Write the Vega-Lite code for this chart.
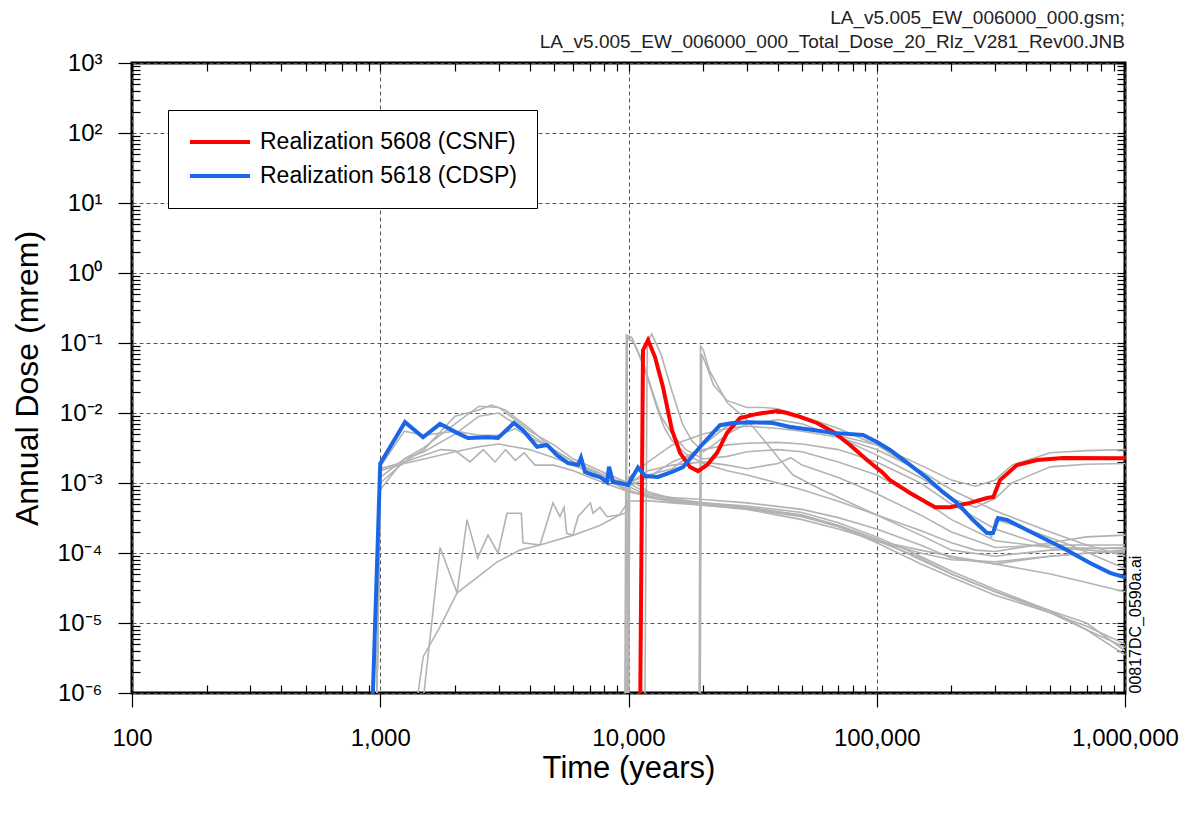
{
  "$schema": "https://vega.github.io/schema/vega-lite/v6.json",
  "width": 993,
  "height": 630,
  "autosize": {"type": "none"},
  "padding": {"left": 132, "top": 63, "right": 71, "bottom": 122},
  "background": "white",
  "title": {
    "text": ["LA_v5.005_EW_006000_000.gsm;", "LA_v5.005_EW_006000_000_Total_Dose_20_Rlz_V281_Rev00.JNB"],
    "anchor": "end",
    "frame": "group",
    "font": "Liberation Sans",
    "fontSize": 19,
    "fontWeight": "normal",
    "color": "#222222",
    "lineHeight": 24,
    "offset": -1
  },
  "config": {
    "font": "Liberation Sans",
    "view": {"stroke": "black", "strokeWidth": 3},
    "axis": {
      "labelFont": "Liberation Sans",
      "titleFont": "Liberation Sans",
      "labelColor": "black",
      "titleColor": "black",
      "tickColor": "black",
      "tickWidth": 1.2,
      "domain": false,
      "titleFontWeight": "normal",
      "labelFlush": false,
      "labelOverlap": false
    },
    "legend": {
      "orient": "none",
      "legendX": 36,
      "legendY": 47,
      "padding": 20,
      "strokeColor": "black",
      "fillColor": "white",
      "labelFont": "Liberation Sans",
      "labelFontSize": 23,
      "labelColor": "black",
      "labelLimit": 500,
      "symbolType": "M-1,0H5",
      "symbolSize": 400,
      "symbolStrokeWidth": 4,
      "labelOffset": 48,
      "rowPadding": 10,
      "title": null
    }
  },
  "datasets": {
    "gray": [
      {"s":"g1","t":960,"d":1e-7},{"s":"g1","t":1000,"d":1.2e-3},{"s":"g1","t":1250,"d":2.2e-3},{"s":"g1","t":1500,"d":3.2e-3},{"s":"g1","t":2000,"d":7e-3},{"s":"g1","t":2500,"d":1.25e-2},{"s":"g1","t":3000,"d":1.2e-2},{"s":"g1","t":3500,"d":8e-3},{"s":"g1","t":4000,"d":5.5e-3},{"s":"g1","t":5000,"d":3.5e-3},{"s":"g1","t":6000,"d":2.2e-3},{"s":"g1","t":8000,"d":1.4e-3},{"s":"g1","t":10000,"d":1.0e-3},{"s":"g1","t":12000,"d":7e-4},{"s":"g1","t":15000,"d":5.8e-4},{"s":"g1","t":20000,"d":5e-4},{"s":"g1","t":30000,"d":4.3e-4},{"s":"g1","t":50000,"d":3.3e-4},{"s":"g1","t":70000,"d":2.4e-4},{"s":"g1","t":100000,"d":1.5e-4},{"s":"g1","t":150000,"d":1.0e-4},{"s":"g1","t":200000,"d":8e-5},{"s":"g1","t":300000,"d":7.5e-5},{"s":"g1","t":500000,"d":9e-5},{"s":"g1","t":700000,"d":1e-4},{"s":"g1","t":1000000,"d":1.05e-4},
      {"s":"g2","t":960,"d":1e-7},{"s":"g2","t":1000,"d":1.0e-3},{"s":"g2","t":1250,"d":2e-3},{"s":"g2","t":1500,"d":3e-3},{"s":"g2","t":2000,"d":9e-3},{"s":"g2","t":2500,"d":1.1e-2},{"s":"g2","t":2800,"d":1.3e-2},{"s":"g2","t":3200,"d":1.1e-2},{"s":"g2","t":4000,"d":6e-3},{"s":"g2","t":5000,"d":3e-3},{"s":"g2","t":6000,"d":2e-3},{"s":"g2","t":8000,"d":1.2e-3},{"s":"g2","t":10000,"d":8e-4},{"s":"g2","t":12000,"d":6.2e-4},{"s":"g2","t":15000,"d":5.4e-4},{"s":"g2","t":20000,"d":4.8e-4},{"s":"g2","t":30000,"d":4.3e-4},{"s":"g2","t":50000,"d":3.5e-4},{"s":"g2","t":70000,"d":2.4e-4},{"s":"g2","t":100000,"d":1.4e-4},{"s":"g2","t":150000,"d":7e-5},{"s":"g2","t":200000,"d":4.5e-5},{"s":"g2","t":300000,"d":2.5e-5},{"s":"g2","t":500000,"d":1.4e-5},{"s":"g2","t":700000,"d":9e-6},{"s":"g2","t":1000000,"d":5e-6},
      {"s":"g3","t":960,"d":1e-7},{"s":"g3","t":1000,"d":8e-4},{"s":"g3","t":1250,"d":2.2e-3},{"s":"g3","t":1500,"d":2.8e-3},{"s":"g3","t":2000,"d":5e-3},{"s":"g3","t":2500,"d":9e-3},{"s":"g3","t":3000,"d":1.0e-2},{"s":"g3","t":4000,"d":5e-3},{"s":"g3","t":5000,"d":3e-3},{"s":"g3","t":6000,"d":2e-3},{"s":"g3","t":8000,"d":1.3e-3},{"s":"g3","t":10000,"d":9e-4},{"s":"g3","t":12000,"d":6.5e-4},{"s":"g3","t":15000,"d":5.6e-4},{"s":"g3","t":20000,"d":5.2e-4},{"s":"g3","t":30000,"d":4.7e-4},{"s":"g3","t":50000,"d":3.8e-4},{"s":"g3","t":70000,"d":2.7e-4},{"s":"g3","t":100000,"d":1.7e-4},{"s":"g3","t":150000,"d":9e-5},{"s":"g3","t":200000,"d":5.5e-5},{"s":"g3","t":300000,"d":3e-5},{"s":"g3","t":500000,"d":1.5e-5},{"s":"g3","t":700000,"d":1e-5},{"s":"g3","t":1000000,"d":4e-6},
      {"s":"g4","t":960,"d":1e-7},{"s":"g4","t":1000,"d":1.6e-3},{"s":"g4","t":1250,"d":2.0e-3},{"s":"g4","t":1500,"d":2.5e-3},{"s":"g4","t":1750,"d":3.0e-3},{"s":"g4","t":2000,"d":2.9e-3},{"s":"g4","t":2300,"d":2.0e-3},{"s":"g4","t":2600,"d":3.0e-3},{"s":"g4","t":2900,"d":2.0e-3},{"s":"g4","t":3200,"d":3.0e-3},{"s":"g4","t":3500,"d":2.1e-3},{"s":"g4","t":3800,"d":2.7e-3},{"s":"g4","t":4200,"d":1.8e-3},{"s":"g4","t":5000,"d":1.8e-3},{"s":"g4","t":6000,"d":1.5e-3},{"s":"g4","t":7000,"d":1.2e-3},{"s":"g4","t":8000,"d":1.0e-3},{"s":"g4","t":10000,"d":7.5e-4},{"s":"g4","t":15000,"d":6.2e-4},{"s":"g4","t":20000,"d":5.8e-4},{"s":"g4","t":30000,"d":5.2e-4},{"s":"g4","t":50000,"d":4.2e-4},{"s":"g4","t":70000,"d":3.2e-4},{"s":"g4","t":100000,"d":2.2e-4},{"s":"g4","t":150000,"d":1.3e-4},{"s":"g4","t":200000,"d":8.5e-5},{"s":"g4","t":300000,"d":7e-5},{"s":"g4","t":500000,"d":9e-5},{"s":"g4","t":1000000,"d":1.1e-4},
      {"s":"g5","t":960,"d":1e-7},{"s":"g5","t":1000,"d":1.5e-3},{"s":"g5","t":1250,"d":1.9e-3},{"s":"g5","t":1500,"d":2.2e-3},{"s":"g5","t":2000,"d":2.8e-3},{"s":"g5","t":2500,"d":3.3e-3},{"s":"g5","t":3000,"d":3.6e-3},{"s":"g5","t":4000,"d":3.0e-3},{"s":"g5","t":5000,"d":2.3e-3},{"s":"g5","t":6000,"d":1.8e-3},{"s":"g5","t":8000,"d":1.2e-3},{"s":"g5","t":10000,"d":7.5e-4},{"s":"g5","t":15000,"d":5.5e-4},{"s":"g5","t":20000,"d":5e-4},{"s":"g5","t":30000,"d":4.5e-4},{"s":"g5","t":50000,"d":3.5e-4},{"s":"g5","t":70000,"d":2.5e-4},{"s":"g5","t":100000,"d":1.6e-4},{"s":"g5","t":150000,"d":8e-5},{"s":"g5","t":200000,"d":5e-5},{"s":"g5","t":300000,"d":2.8e-5},{"s":"g5","t":500000,"d":1.5e-5},{"s":"g5","t":700000,"d":8e-6},{"s":"g5","t":1000000,"d":3.5e-6},
      {"s":"g6","t":1380,"d":1e-7},{"s":"g6","t":1420,"d":1e-6},{"s":"g6","t":1490,"d":3.3e-6},{"s":"g6","t":1740,"d":8.8e-6},{"s":"g6","t":2040,"d":2.7e-5},{"s":"g6","t":2460,"d":4.5e-5},{"s":"g6","t":2950,"d":7.4e-5},{"s":"g6","t":3650,"d":1.1e-4},{"s":"g6","t":4400,"d":1.3e-4},{"s":"g6","t":6000,"d":1.8e-4},{"s":"g6","t":7700,"d":2.5e-4},{"s":"g6","t":9200,"d":3.5e-4},{"s":"g6","t":10000,"d":5.5e-4},{"s":"g6","t":12000,"d":5.6e-4},{"s":"g6","t":15000,"d":5.2e-4},{"s":"g6","t":20000,"d":4.8e-4},{"s":"g6","t":30000,"d":4.2e-4},{"s":"g6","t":50000,"d":3e-4},{"s":"g6","t":70000,"d":2.2e-4},{"s":"g6","t":100000,"d":1.5e-4},{"s":"g6","t":150000,"d":1.1e-4},{"s":"g6","t":200000,"d":9e-5},{"s":"g6","t":300000,"d":7e-5},{"s":"g6","t":500000,"d":5e-5},{"s":"g6","t":700000,"d":3.8e-5},{"s":"g6","t":1000000,"d":2.8e-5},
      {"s":"g7","t":1350,"d":1e-7},{"s":"g7","t":1500,"d":1e-6},{"s":"g7","t":1741,"d":1.2e-4},{"s":"g7","t":2038,"d":2.7e-5},{"s":"g7","t":2236,"d":3e-4},{"s":"g7","t":2468,"d":8.5e-5},{"s":"g7","t":2716,"d":1.8e-4},{"s":"g7","t":2981,"d":1e-4},{"s":"g7","t":3240,"d":3.7e-4},{"s":"g7","t":3700,"d":3.7e-4},{"s":"g7","t":3758,"d":1.4e-4},{"s":"g7","t":4400,"d":1.3e-4},{"s":"g7","t":4965,"d":5.2e-4},{"s":"g7","t":5295,"d":3.3e-4},{"s":"g7","t":5500,"d":4.5e-4},{"s":"g7","t":5640,"d":1.9e-4},{"s":"g7","t":5975,"d":1.8e-4},{"s":"g7","t":6261,"d":3.3e-4},{"s":"g7","t":7020,"d":5.2e-4},{"s":"g7","t":7194,"d":3.7e-4},{"s":"g7","t":7676,"d":4.5e-4},{"s":"g7","t":8192,"d":3.3e-4},{"s":"g7","t":9244,"d":3.5e-4},{"s":"g7","t":9860,"d":3.8e-4},{"s":"g7","t":10200,"d":1.1e-3},{"s":"g7","t":12000,"d":7.5e-4},{"s":"g7","t":15000,"d":6e-4},{"s":"g7","t":20000,"d":5.2e-4},{"s":"g7","t":30000,"d":4.4e-4},{"s":"g7","t":50000,"d":3.4e-4},{"s":"g7","t":70000,"d":2.4e-4},{"s":"g7","t":100000,"d":1.5e-4},{"s":"g7","t":150000,"d":8.5e-5},{"s":"g7","t":200000,"d":5e-5},{"s":"g7","t":300000,"d":2.8e-5},{"s":"g7","t":500000,"d":1.4e-5},{"s":"g7","t":700000,"d":8e-6},{"s":"g7","t":1000000,"d":4.5e-6},
      {"s":"g8","t":9650,"d":1e-7},{"s":"g8","t":9800,"d":0.13},{"s":"g8","t":10300,"d":0.12},{"s":"g8","t":11000,"d":7e-2},{"s":"g8","t":12000,"d":3e-2},{"s":"g8","t":13000,"d":1.2e-2},{"s":"g8","t":14000,"d":6e-3},{"s":"g8","t":15000,"d":4e-3},{"s":"g8","t":17000,"d":2.6e-3},{"s":"g8","t":20000,"d":1.9e-3},{"s":"g8","t":25000,"d":1.5e-3},{"s":"g8","t":30000,"d":1.3e-3},{"s":"g8","t":40000,"d":1.0e-3},{"s":"g8","t":50000,"d":8e-4},{"s":"g8","t":70000,"d":5.5e-4},{"s":"g8","t":100000,"d":3.5e-4},{"s":"g8","t":150000,"d":2.1e-4},{"s":"g8","t":200000,"d":1.4e-4},{"s":"g8","t":250000,"d":1.1e-4},{"s":"g8","t":300000,"d":1.05e-4},{"s":"g8","t":500000,"d":1.4e-4},{"s":"g8","t":700000,"d":1.7e-4},{"s":"g8","t":1000000,"d":1.8e-4},
      {"s":"g9","t":9700,"d":1e-7},{"s":"g9","t":9900,"d":0.12},{"s":"g9","t":10500,"d":0.1},{"s":"g9","t":11500,"d":5e-2},{"s":"g9","t":12500,"d":2e-2},{"s":"g9","t":13500,"d":9e-3},{"s":"g9","t":15000,"d":5e-3},{"s":"g9","t":17000,"d":3e-3},{"s":"g9","t":20000,"d":2.2e-3},{"s":"g9","t":25000,"d":2.4e-3},{"s":"g9","t":30000,"d":2.8e-3},{"s":"g9","t":40000,"d":3e-3},{"s":"g9","t":50000,"d":2.8e-3},{"s":"g9","t":70000,"d":2e-3},{"s":"g9","t":100000,"d":1.3e-3},{"s":"g9","t":150000,"d":6e-4},{"s":"g9","t":200000,"d":3e-4},{"s":"g9","t":300000,"d":1.5e-4},{"s":"g9","t":500000,"d":1.2e-4},{"s":"g9","t":1000000,"d":1.15e-4},
      {"s":"g10","t":11600,"d":1e-7},{"s":"g10","t":11900,"d":0.1},{"s":"g10","t":12400,"d":0.135},{"s":"g10","t":13500,"d":7e-2},{"s":"g10","t":15000,"d":2e-2},{"s":"g10","t":16500,"d":7e-3},{"s":"g10","t":18000,"d":4e-3},{"s":"g10","t":20000,"d":2.8e-3},{"s":"g10","t":22000,"d":3.5e-3},{"s":"g10","t":25000,"d":5e-3},{"s":"g10","t":30000,"d":7e-3},{"s":"g10","t":40000,"d":8e-3},{"s":"g10","t":50000,"d":7e-3},{"s":"g10","t":70000,"d":4.5e-3},{"s":"g10","t":100000,"d":2.5e-3},{"s":"g10","t":150000,"d":1.2e-3},{"s":"g10","t":200000,"d":6e-4},{"s":"g10","t":250000,"d":4.5e-4},{"s":"g10","t":300000,"d":6e-4},{"s":"g10","t":350000,"d":1e-3},{"s":"g10","t":500000,"d":1.7e-3},{"s":"g10","t":700000,"d":1.85e-3},{"s":"g10","t":1000000,"d":1.9e-3},
      {"s":"g11","t":19200,"d":1e-7},{"s":"g11","t":19500,"d":9e-2},{"s":"g11","t":20000,"d":8e-2},{"s":"g11","t":21200,"d":4e-2},{"s":"g11","t":25000,"d":1.4e-2},{"s":"g11","t":30000,"d":8e-3},{"s":"g11","t":36000,"d":3.7e-3},{"s":"g11","t":41000,"d":2.1e-3},{"s":"g11","t":46000,"d":1.3e-3},{"s":"g11","t":60000,"d":8e-4},{"s":"g11","t":80000,"d":5e-4},{"s":"g11","t":100000,"d":3.5e-4},{"s":"g11","t":150000,"d":1.8e-4},{"s":"g11","t":200000,"d":1.1e-4},{"s":"g11","t":300000,"d":9e-5},{"s":"g11","t":500000,"d":1.1e-4},{"s":"g11","t":1000000,"d":1.2e-4},
      {"s":"g12","t":19400,"d":1e-7},{"s":"g12","t":19700,"d":7e-2},{"s":"g12","t":20500,"d":5e-2},{"s":"g12","t":22000,"d":2.5e-2},{"s":"g12","t":25000,"d":1.5e-2},{"s":"g12","t":30000,"d":1.2e-2},{"s":"g12","t":35000,"d":1.2e-2},{"s":"g12","t":40000,"d":1.15e-2},{"s":"g12","t":50000,"d":9e-3},{"s":"g12","t":70000,"d":6e-3},{"s":"g12","t":100000,"d":3.5e-3},{"s":"g12","t":150000,"d":1.8e-3},{"s":"g12","t":200000,"d":1.1e-3},{"s":"g12","t":250000,"d":9e-4},{"s":"g12","t":300000,"d":1.1e-3},{"s":"g12","t":350000,"d":1.8e-3},{"s":"g12","t":500000,"d":2.7e-3},{"s":"g12","t":700000,"d":2.9e-3},{"s":"g12","t":1000000,"d":3e-3},
      {"s":"g13","t":9800,"d":1e-7},{"s":"g13","t":10000,"d":1.2e-3},{"s":"g13","t":12000,"d":2e-3},{"s":"g13","t":15000,"d":3.5e-3},{"s":"g13","t":20000,"d":5e-3},{"s":"g13","t":25000,"d":6e-3},{"s":"g13","t":30000,"d":6.5e-3},{"s":"g13","t":40000,"d":6e-3},{"s":"g13","t":50000,"d":5.5e-3},{"s":"g13","t":70000,"d":4.5e-3},{"s":"g13","t":100000,"d":3e-3},{"s":"g13","t":150000,"d":1.5e-3},{"s":"g13","t":200000,"d":8e-4},{"s":"g13","t":300000,"d":4e-4},{"s":"g13","t":500000,"d":2e-4},{"s":"g13","t":700000,"d":1.3e-4},{"s":"g13","t":1000000,"d":9e-5},
      {"s":"g14","t":9900,"d":1e-7},{"s":"g14","t":10000,"d":9e-4},{"s":"g14","t":12000,"d":1.2e-3},{"s":"g14","t":15000,"d":2e-3},{"s":"g14","t":20000,"d":3e-3},{"s":"g14","t":25000,"d":3.5e-3},{"s":"g14","t":30000,"d":3.7e-3},{"s":"g14","t":40000,"d":3.8e-3},{"s":"g14","t":50000,"d":3.6e-3},{"s":"g14","t":70000,"d":3e-3},{"s":"g14","t":100000,"d":2e-3},{"s":"g14","t":150000,"d":1e-3},{"s":"g14","t":200000,"d":5e-4},{"s":"g14","t":300000,"d":2.2e-4},{"s":"g14","t":500000,"d":1.2e-4},{"s":"g14","t":1000000,"d":1e-4},
      {"s":"g15","t":10000,"d":1e-7},{"s":"g15","t":10100,"d":1e-3},{"s":"g15","t":12000,"d":1.5e-3},{"s":"g15","t":15000,"d":1.8e-3},{"s":"g15","t":20000,"d":2e-3},{"s":"g15","t":25000,"d":1.8e-3},{"s":"g15","t":30000,"d":1.6e-3},{"s":"g15","t":40000,"d":1.9e-3},{"s":"g15","t":45000,"d":2.3e-3},{"s":"g15","t":50000,"d":1.8e-3},{"s":"g15","t":70000,"d":1.2e-3},{"s":"g15","t":100000,"d":7e-4},{"s":"g15","t":150000,"d":3.5e-4},{"s":"g15","t":200000,"d":2e-4},{"s":"g15","t":300000,"d":1.2e-4},{"s":"g15","t":500000,"d":1.3e-4},{"s":"g15","t":1000000,"d":1.3e-4},
      {"s":"g16","t":960,"d":1e-7},{"s":"g16","t":1000,"d":1.7e-3},{"s":"g16","t":1250,"d":5.5e-3},{"s":"g16","t":1500,"d":4.8e-3},{"s":"g16","t":2000,"d":5.5e-3},{"s":"g16","t":2500,"d":4.8e-3},{"s":"g16","t":3000,"d":4.8e-3},{"s":"g16","t":3500,"d":6e-3},{"s":"g16","t":4000,"d":4.5e-3},{"s":"g16","t":5000,"d":3e-3},{"s":"g16","t":6000,"d":2e-3},{"s":"g16","t":8000,"d":1.2e-3},{"s":"g16","t":10000,"d":1.0e-3},{"s":"g16","t":12000,"d":1.3e-3},{"s":"g16","t":15000,"d":1.6e-3},{"s":"g16","t":20000,"d":3.5e-3},{"s":"g16","t":25000,"d":6.5e-3},{"s":"g16","t":30000,"d":7.5e-3},{"s":"g16","t":40000,"d":7e-3},{"s":"g16","t":60000,"d":5.5e-3},{"s":"g16","t":100000,"d":3.5e-3},{"s":"g16","t":150000,"d":1.4e-3},{"s":"g16","t":200000,"d":6e-4},{"s":"g16","t":250000,"d":2.8e-4},{"s":"g16","t":290000,"d":1.7e-4},{"s":"g16","t":300000,"d":3e-4},{"s":"g16","t":400000,"d":2.2e-4},{"s":"g16","t":600000,"d":1.3e-4},{"s":"g16","t":1000000,"d":6e-5}
    ],
    "main": [
      {"s":"Realization 5608 (CSNF)","t":11100,"d":1e-7},{"s":"Realization 5608 (CSNF)","t":11440,"d":7.9e-2},{"s":"Realization 5608 (CSNF)","t":11985,"d":0.11},{"s":"Realization 5608 (CSNF)","t":12788,"d":6.3e-2},{"s":"Realization 5608 (CSNF)","t":13770,"d":2.35e-2},{"s":"Realization 5608 (CSNF)","t":14970,"d":5.7e-3},{"s":"Realization 5608 (CSNF)","t":16130,"d":2.7e-3},{"s":"Realization 5608 (CSNF)","t":17690,"d":1.69e-3},{"s":"Realization 5608 (CSNF)","t":19050,"d":1.48e-3},{"s":"Realization 5608 (CSNF)","t":20720,"d":1.81e-3},{"s":"Realization 5608 (CSNF)","t":22730,"d":2.7e-3},{"s":"Realization 5608 (CSNF)","t":24940,"d":5.2e-3},{"s":"Realization 5608 (CSNF)","t":28130,"d":8.5e-3},{"s":"Realization 5608 (CSNF)","t":32930,"d":9.7e-3},{"s":"Realization 5608 (CSNF)","t":39630,"d":1.07e-2},{"s":"Realization 5608 (CSNF)","t":43500,"d":1.0e-2},{"s":"Realization 5608 (CSNF)","t":49070,"d":8.8e-3},{"s":"Realization 5608 (CSNF)","t":57440,"d":7.2e-3},{"s":"Realization 5608 (CSNF)","t":66640,"d":5.4e-3},{"s":"Realization 5608 (CSNF)","t":78040,"d":3.5e-3},{"s":"Realization 5608 (CSNF)","t":91350,"d":2.13e-3},{"s":"Realization 5608 (CSNF)","t":106000,"d":1.39e-3},{"s":"Realization 5608 (CSNF)","t":113100,"d":1.1e-3},{"s":"Realization 5608 (CSNF)","t":136100,"d":7.2e-4},{"s":"Realization 5608 (CSNF)","t":171700,"d":4.5e-4},{"s":"Realization 5608 (CSNF)","t":197300,"d":4.5e-4},{"s":"Realization 5608 (CSNF)","t":237500,"d":5.2e-4},{"s":"Realization 5608 (CSNF)","t":278000,"d":6.1e-4},{"s":"Realization 5608 (CSNF)","t":295000,"d":6.3e-4},{"s":"Realization 5608 (CSNF)","t":313700,"d":1.1e-3},{"s":"Realization 5608 (CSNF)","t":367300,"d":1.81e-3},{"s":"Realization 5608 (CSNF)","t":442100,"d":2.13e-3},{"s":"Realization 5608 (CSNF)","t":562700,"d":2.28e-3},{"s":"Realization 5608 (CSNF)","t":1000000,"d":2.25e-3},
      {"s":"Realization 5618 (CDSP)","t":915,"d":1e-7},{"s":"Realization 5618 (CDSP)","t":1000,"d":1.9e-3},{"s":"Realization 5618 (CDSP)","t":1258,"d":7.4e-3},{"s":"Realization 5618 (CDSP)","t":1487,"d":4.5e-3},{"s":"Realization 5618 (CDSP)","t":1741,"d":7.0e-3},{"s":"Realization 5618 (CDSP)","t":2038,"d":5.2e-3},{"s":"Realization 5618 (CDSP)","t":2257,"d":4.4e-3},{"s":"Realization 5618 (CDSP)","t":2716,"d":4.5e-3},{"s":"Realization 5618 (CDSP)","t":2981,"d":4.4e-3},{"s":"Realization 5618 (CDSP)","t":3457,"d":7.2e-3},{"s":"Realization 5618 (CDSP)","t":3758,"d":5.7e-3},{"s":"Realization 5618 (CDSP)","t":4280,"d":3.3e-3},{"s":"Realization 5618 (CDSP)","t":4695,"d":3.5e-3},{"s":"Realization 5618 (CDSP)","t":5152,"d":2.5e-3},{"s":"Realization 5618 (CDSP)","t":5705,"d":1.93e-3},{"s":"Realization 5618 (CDSP)","t":6261,"d":1.81e-3},{"s":"Realization 5618 (CDSP)","t":6437,"d":2.3e-3},{"s":"Realization 5618 (CDSP)","t":6680,"d":1.44e-3},{"s":"Realization 5618 (CDSP)","t":7194,"d":1.3e-3},{"s":"Realization 5618 (CDSP)","t":7676,"d":1.22e-3},{"s":"Realization 5618 (CDSP)","t":8192,"d":1.03e-3},{"s":"Realization 5618 (CDSP)","t":8346,"d":1.7e-3},{"s":"Realization 5618 (CDSP)","t":8661,"d":1.03e-3},{"s":"Realization 5618 (CDSP)","t":9244,"d":1.0e-3},{"s":"Realization 5618 (CDSP)","t":9955,"d":9.4e-4},{"s":"Realization 5618 (CDSP)","t":10922,"d":1.66e-3},{"s":"Realization 5618 (CDSP)","t":11654,"d":1.26e-3},{"s":"Realization 5618 (CDSP)","t":13148,"d":1.22e-3},{"s":"Realization 5618 (CDSP)","t":14970,"d":1.44e-3},{"s":"Realization 5618 (CDSP)","t":16580,"d":1.69e-3},{"s":"Realization 5618 (CDSP)","t":19410,"d":3.27e-3},{"s":"Realization 5618 (CDSP)","t":23370,"d":6.7e-3},{"s":"Realization 5618 (CDSP)","t":26370,"d":7.2e-3},{"s":"Realization 5618 (CDSP)","t":30870,"d":7.4e-3},{"s":"Realization 5618 (CDSP)","t":38200,"d":7.2e-3},{"s":"Realization 5618 (CDSP)","t":44730,"d":6.3e-3},{"s":"Realization 5618 (CDSP)","t":55370,"d":5.7e-3},{"s":"Realization 5618 (CDSP)","t":66640,"d":5.2e-3},{"s":"Realization 5618 (CDSP)","t":88020,"d":4.85e-3},{"s":"Realization 5618 (CDSP)","t":100240,"d":3.86e-3},{"s":"Realization 5618 (CDSP)","t":113100,"d":2.96e-3},{"s":"Realization 5618 (CDSP)","t":136100,"d":1.81e-3},{"s":"Realization 5618 (CDSP)","t":159400,"d":1.18e-3},{"s":"Realization 5618 (CDSP)","t":184900,"d":7.4e-4},{"s":"Realization 5618 (CDSP)","t":210500,"d":5.2e-4},{"s":"Realization 5618 (CDSP)","t":244200,"d":2.96e-4},{"s":"Realization 5618 (CDSP)","t":278000,"d":1.93e-4},{"s":"Realization 5618 (CDSP)","t":293900,"d":1.93e-4},{"s":"Realization 5618 (CDSP)","t":307900,"d":3.16e-4},{"s":"Realization 5618 (CDSP)","t":334700,"d":2.96e-4},{"s":"Realization 5618 (CDSP)","t":426000,"d":1.93e-4},{"s":"Realization 5618 (CDSP)","t":562700,"d":1.18e-4},{"s":"Realization 5618 (CDSP)","t":722800,"d":7.2e-5},{"s":"Realization 5618 (CDSP)","t":870000,"d":5.2e-5},{"s":"Realization 5618 (CDSP)","t":1000000,"d":4.5e-5}
    ]
  },
  "resolve": {"axis": {"x": "independent", "y": "independent"}},
  "layer": [
    {
      "data": {"name": "gray"},
      "mark": {"type": "line", "stroke": "#b3b3b3", "strokeWidth": 1.6, "clip": true},
      "encoding": {
        "x": {"field": "t", "type": "quantitative", "scale": {"type": "log", "domain": [100, 1000000], "nice": false},
          "axis": {"orient": "bottom", "values": [100, 1000, 10000, 100000, 1000000], "format": ",d", "labelFontSize": 24, "tickSize": 14, "labelPadding": 19, "grid": true, "gridDash": [4, 3], "gridColor": "#555555", "gridWidth": 1, "title": "Time (years)", "titleFontSize": 31, "titlePadding": 3}},
        "y": {"field": "d", "type": "quantitative", "scale": {"type": "log", "domain": [1e-6, 1000], "nice": false},
          "axis": {"orient": "left", "values": [1e-6, 1e-5, 1e-4, 1e-3, 1e-2, 1e-1, 1, 10, 100, 1000],
            "labelExpr": "datum.value < 5e-6 ? '10⁻⁶' : datum.value < 5e-5 ? '10⁻⁵' : datum.value < 5e-4 ? '10⁻⁴' : datum.value < 5e-3 ? '10⁻³' : datum.value < 0.05 ? '10⁻²' : datum.value < 0.5 ? '10⁻¹' : datum.value < 5 ? '10⁰' : datum.value < 50 ? '10¹' : datum.value < 500 ? '10²' : '10³'",
            "labelFontSize": 24, "tickSize": 14, "labelPadding": 16, "grid": true, "gridDash": [4, 3], "gridColor": "#555555", "gridWidth": 1, "title": "Annual Dose (mrem)", "titleFontSize": 32, "titlePadding": 12}},
        "detail": {"field": "s"}
      }
    },
    {
      "data": {"name": "main"},
      "transform": [{"filter": "datum.s === 'Realization 5608 (CSNF)'"}],
      "mark": {"type": "line", "strokeWidth": 4, "clip": true},
      "encoding": {
        "x": {"field": "t", "type": "quantitative", "scale": {"type": "log", "domain": [100, 1000000], "nice": false},
          "axis": {"orient": "bottom", "values": [200,300,400,500,600,700,800,900,2000,3000,4000,5000,6000,7000,8000,9000,20000,30000,40000,50000,60000,70000,80000,90000,200000,300000,400000,500000,600000,700000,800000,900000], "labels": false, "grid": false, "tickSize": 8, "offset": -8, "title": null}},
        "y": {"field": "d", "type": "quantitative", "scale": {"type": "log", "domain": [1e-6, 1000], "nice": false},
          "axis": {"orient": "left", "values": [2e-6,3e-6,4e-6,5e-6,6e-6,7e-6,8e-6,9e-6,2e-5,3e-5,4e-5,5e-5,6e-5,7e-5,8e-5,9e-5,2e-4,3e-4,4e-4,5e-4,6e-4,7e-4,8e-4,9e-4,2e-3,3e-3,4e-3,5e-3,6e-3,7e-3,8e-3,9e-3,0.02,0.03,0.04,0.05,0.06,0.07,0.08,0.09,0.2,0.3,0.4,0.5,0.6,0.7,0.8,0.9,2,3,4,5,6,7,8,9,20,30,40,50,60,70,80,90,200,300,400,500,600,700,800,900], "labels": false, "grid": false, "tickSize": 8, "offset": -8, "title": null}},
        "color": {"field": "s", "type": "nominal", "scale": {"domain": ["Realization 5608 (CSNF)", "Realization 5618 (CDSP)"], "range": ["#ff0000", "#1a66e6"]}, "legend": {}}
      }
    },
    {
      "data": {"name": "main"},
      "transform": [{"filter": "datum.s === 'Realization 5618 (CDSP)'"}],
      "mark": {"type": "line", "strokeWidth": 4, "clip": true},
      "encoding": {
        "x": {"field": "t", "type": "quantitative", "scale": {"type": "log", "domain": [100, 1000000], "nice": false},
          "axis": {"orient": "top", "values": [100,200,300,400,500,600,700,800,900,1000,2000,3000,4000,5000,6000,7000,8000,9000,10000,20000,30000,40000,50000,60000,70000,80000,90000,100000,200000,300000,400000,500000,600000,700000,800000,900000,1000000], "labels": false, "grid": false, "tickSize": 8, "offset": -8, "title": null}},
        "y": {"field": "d", "type": "quantitative", "scale": {"type": "log", "domain": [1e-6, 1000], "nice": false},
          "axis": {"orient": "right", "values": [1e-6,2e-6,3e-6,4e-6,5e-6,6e-6,7e-6,8e-6,9e-6,1e-5,2e-5,3e-5,4e-5,5e-5,6e-5,7e-5,8e-5,9e-5,1e-4,2e-4,3e-4,4e-4,5e-4,6e-4,7e-4,8e-4,9e-4,1e-3,2e-3,3e-3,4e-3,5e-3,6e-3,7e-3,8e-3,9e-3,0.01,0.02,0.03,0.04,0.05,0.06,0.07,0.08,0.09,0.1,0.2,0.3,0.4,0.5,0.6,0.7,0.8,0.9,1,2,3,4,5,6,7,8,9,10,20,30,40,50,60,70,80,90,100,200,300,400,500,600,700,800,900,1000], "labels": false, "grid": false, "tickSize": 8, "offset": -8, "title": "00817DC_0590a.ai", "titleFontSize": 16, "titleAngle": 270, "titleAnchor": "start", "titleAlign": "left", "titleBaseline": "top", "titlePadding": 2}},
        "color": {"field": "s", "type": "nominal", "scale": {"domain": ["Realization 5608 (CSNF)", "Realization 5618 (CDSP)"], "range": ["#ff0000", "#1a66e6"]}, "legend": {}}
      }
    }
  ]
}
